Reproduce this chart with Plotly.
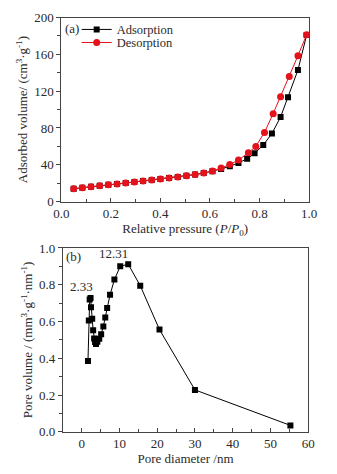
import plotly.graph_objects as go

# (a) N2 isotherm
ads_p = [0.05, 0.085, 0.12, 0.155, 0.19, 0.225, 0.26, 0.295, 0.33, 0.365, 0.40, 0.435, 0.47,
         0.505, 0.54, 0.575, 0.61, 0.645, 0.68, 0.715, 0.75, 0.78, 0.815, 0.85, 0.885, 0.915, 0.955, 0.99]
ads_v = [14.0, 15.2, 16.2, 17.2, 18.2, 19.2, 20.2, 21.3, 22.3, 23.4, 24.5, 25.6, 26.8,
         28.0, 29.4, 31.0, 33.0, 35.5, 38.5, 42.0, 46.5, 52.5, 61.5, 74.0, 92.0, 113.5, 143.0, 181.0]
des_p = [0.05, 0.085, 0.12, 0.155, 0.19, 0.225, 0.26, 0.295, 0.33, 0.365, 0.40, 0.435, 0.47,
         0.505, 0.54, 0.575, 0.61, 0.645, 0.68, 0.715, 0.755, 0.785, 0.82, 0.855, 0.885, 0.92, 0.955, 0.99]
des_v = [14.0, 15.2, 16.2, 17.2, 18.2, 19.2, 20.2, 21.3, 22.3, 23.4, 24.5, 25.6, 26.8,
         28.0, 29.4, 31.0, 33.2, 36.5, 40.3, 45.2, 53.0, 60.0, 75.2, 95.6, 114.0, 136.0, 158.6, 181.3]

# (b) pore size distribution
pore_d = [1.65, 1.87, 2.1, 2.33, 2.45, 2.77, 3.02, 3.28, 3.53, 3.78, 4.13, 4.64, 5.14,
          5.72, 6.23, 6.73, 7.5, 8.65, 10.2, 12.31, 15.5, 20.6, 30.0, 55.3]
pore_v = [0.385, 0.605, 0.72, 0.728, 0.678, 0.615, 0.552, 0.508, 0.489, 0.478, 0.49, 0.506, 0.531,
          0.573, 0.622, 0.673, 0.745, 0.828, 0.9, 0.912, 0.795, 0.556, 0.228, 0.035]

FONT = "Liberation Serif"
RED = "#e3121b"
AX = "#444444"
TXT = "#2a2a2a"

fig = go.Figure()
fig.add_trace(go.Scatter(x=ads_p, y=ads_v, mode="lines+markers", name="Adsorption",
                         line=dict(color="black", width=1),
                         marker=dict(symbol="square", size=6, color="black"),
                         xaxis="x", yaxis="y", legend="legend"))
fig.add_trace(go.Scatter(x=des_p, y=des_v, mode="lines+markers", name="Desorption",
                         line=dict(color=RED, width=1),
                         marker=dict(symbol="circle", size=7, color=RED),
                         xaxis="x", yaxis="y", legend="legend2"))
fig.add_trace(go.Scatter(x=pore_d, y=pore_v, mode="lines+markers", showlegend=False,
                         line=dict(color="black", width=1),
                         marker=dict(symbol="square", size=6, color="black"),
                         xaxis="x2", yaxis="y2"))

axcommon = dict(showline=True, linecolor=AX, linewidth=1, mirror=True, showgrid=False,
                zeroline=False, tickcolor=AX, ticklen=4,
                tickfont=dict(family=FONT, size=13, color=TXT))
tfont = dict(family=FONT, size=13, color=TXT)

legcommon = dict(xanchor="left", yanchor="top", bgcolor="rgba(0,0,0,0)",
                 font=dict(family=FONT, size=12.5, color=TXT), itemwidth=30)

fig.update_layout(
    width=337, height=474,
    margin=dict(l=0, r=0, t=0, b=0),
    plot_bgcolor="white", paper_bgcolor="white",
    font=dict(family=FONT, size=13, color=TXT),
    xaxis=dict(domain=[0.166, 0.938], anchor="y", range=[0, 1], dtick=0.2, tickformat=".1f",
               ticks="inside", minor=dict(dtick=0.1, ticks="inside", ticklen=3, tickcolor=AX),
               title=dict(text="Relative pressure (<i>P</i>/<i>P</i><sub>0</sub>)",
                          font=tfont, standoff=3),
               **axcommon),
    yaxis=dict(domain=[0.576, 0.977], anchor="x", range=[0, 200], dtick=40,
               ticks="outside", minor=dict(dtick=20, ticks="outside", ticklen=3, tickcolor=AX),
               title=dict(text="Adsorbed volume/ (cm<sup>3</sup>·g<sup>-1</sup>)",
                          font=tfont, standoff=3),
               **axcommon),
    xaxis2=dict(domain=[0.171, 0.935], anchor="y2", range=[-5, 60], dtick=10,
                ticks="inside", minor=dict(dtick=5, ticks="inside", ticklen=3, tickcolor=AX),
                title=dict(text="Pore diameter /nm", font=tfont, standoff=3),
                **axcommon),
    yaxis2=dict(domain=[0.0745, 0.475], anchor="x2", range=[0, 1.0], dtick=0.2, tickformat=".1f",
                ticks="outside", minor=dict(dtick=0.1, ticks="outside", ticklen=3, tickcolor=AX),
                title=dict(text="Pore volume / (mm<sup>3</sup>·g<sup>-1</sup>·nm<sup>-1</sup>)",
                           font=tfont, standoff=3),
                **axcommon),
    legend=dict(x=0.214, y=0.983, **legcommon),
    legend2=dict(x=0.214, y=0.9545, **legcommon),
    annotations=[
        dict(text="(a)", x=0.172, y=0.953, xref="paper", yref="paper", showarrow=False,
             xanchor="left", yanchor="middle", font=dict(family=FONT, size=13, color=TXT)),
        dict(text="(b)", x=0.176, y=0.456, xref="paper", yref="paper", showarrow=False,
             xanchor="left", yanchor="middle", font=dict(family=FONT, size=13, color=TXT)),
        dict(text="2.33", x=0, y=0.79, xref="x2", yref="y2", showarrow=False,
             font=dict(family=FONT, size=13, color=TXT)),
        dict(text="12.31", x=8.5, y=0.968, xref="x2", yref="y2", showarrow=False,
             font=dict(family=FONT, size=13, color=TXT)),
    ],
)

fig.write_html("out.html")
